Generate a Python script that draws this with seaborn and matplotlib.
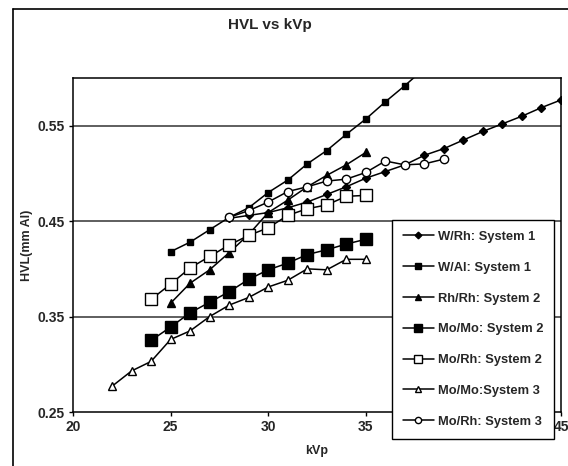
import matplotlib
matplotlib.use("Agg")
import matplotlib.pyplot as plt
import seaborn as sns
import pandas as pd
from matplotlib.lines import Line2D

sns.set_theme(style="white")
plt.rcParams['font.family'] = ['Liberation Sans', 'DejaVu Sans']

# ---- data ----
wrh_s1_kvp = list(range(28, 46))
wrh_s1_hvl = [0.453, 0.456, 0.459, 0.464, 0.470, 0.478, 0.486, 0.495, 0.502, 0.509,
              0.519, 0.526, 0.535, 0.544, 0.552, 0.560, 0.569, 0.577]

wal_s1_kvp = list(range(25, 39))
wal_s1_hvl = [0.418, 0.428, 0.441, 0.454, 0.464, 0.480, 0.493, 0.510, 0.524, 0.541,
              0.557, 0.575, 0.592, 0.610]

rhrh_s2_kvp = list(range(25, 36))
rhrh_s2_hvl = [0.364, 0.385, 0.399, 0.417, 0.436, 0.459, 0.472, 0.486, 0.498, 0.509, 0.522]

momo_s2_kvp = list(range(24, 36))
momo_s2_hvl = [0.325, 0.339, 0.354, 0.365, 0.376, 0.389, 0.399, 0.406, 0.415, 0.420,
               0.426, 0.431]

morh_s2_kvp = list(range(24, 36))
morh_s2_hvl = [0.368, 0.384, 0.401, 0.413, 0.425, 0.435, 0.443, 0.456, 0.463, 0.467,
               0.476, 0.477]

momo_s3_kvp = list(range(22, 36))
momo_s3_hvl = [0.277, 0.293, 0.303, 0.326, 0.335, 0.350, 0.362, 0.370, 0.381, 0.388,
               0.400, 0.399, 0.410, 0.410]

morh_s3_kvp = list(range(28, 40))
morh_s3_hvl = [0.454, 0.461, 0.470, 0.481, 0.486, 0.492, 0.494, 0.501, 0.513, 0.509,
               0.510, 0.515]

labels = ["W/Rh: System 1", "W/Al: System 1", "Rh/Rh: System 2", "Mo/Mo: System 2",
          "Mo/Rh: System 2", "Mo/Mo:System 3", "Mo/Rh: System 3"]

x_ticks = [20, 25, 30, 35, 40, 45]
x_tick_labels = ["20", "25", "30", "35", "", "45"]   # "40" is hidden behind the legend
y_ticks = [0.25, 0.35, 0.45, 0.55]
y_tick_labels = ["0.25", "0.35", "0.45", "0.55"]

series = [
    (wrh_s1_kvp, wrh_s1_hvl, dict(marker="D", markersize=4.5, markerfacecolor="black")),
    (wal_s1_kvp, wal_s1_hvl, dict(marker="s", markersize=5, markerfacecolor="black")),
    (rhrh_s2_kvp, rhrh_s2_hvl, dict(marker="^", markersize=5.5, markerfacecolor="black")),
    (momo_s2_kvp, momo_s2_hvl, dict(marker="s", markersize=8.5, markerfacecolor="black")),
    (morh_s2_kvp, morh_s2_hvl, dict(marker="s", markersize=8, markerfacecolor="white")),
    (momo_s3_kvp, momo_s3_hvl, dict(marker="^", markersize=5.5, markerfacecolor="white")),
    (morh_s3_kvp, morh_s3_hvl, dict(marker="o", markersize=6, markerfacecolor="white")),
]

fig = plt.figure(figsize=(5.68, 4.66), dpi=100)
fig.patch.set_facecolor("white")
ax = fig.add_axes([73/568, 1-412/466, (561-73)/568, (412-78)/466])

# horizontal gridlines
for yv in [0.35, 0.45, 0.55]:
    ax.axhline(yv, color="#333333", lw=1.1, zorder=1)

handles = []
for (xs, ys, st), lab in zip(series, labels):
    df = pd.DataFrame({"kVp": xs, "HVL": ys})
    sns.lineplot(data=df, x="kVp", y="HVL", ax=ax, color="black", lw=1.1,
                 markeredgecolor="black", markeredgewidth=1.0, label=None,
                 legend=False, zorder=3, **st)
    handles.append(Line2D([0], [0], color="black", lw=1.1, markeredgecolor="black",
                          markeredgewidth=1.0, label=lab,
                          **{k: (v*0.75 if k == "markersize" else v) for k, v in st.items()}))

ax.set_xlim(20, 45)
ax.set_ylim(0.25, 0.60)
ax.set_xticks(x_ticks)
ax.set_xticklabels(x_tick_labels)
ax.set_yticks(y_ticks)
ax.set_yticklabels(y_tick_labels)
ax.tick_params(axis="both", labelsize=10, length=3, width=1, color="black",
               direction="out", bottom=True, left=True, pad=3)
for lbl in ax.get_xticklabels() + ax.get_yticklabels():
    lbl.set_fontweight("bold")
for sp in ax.spines.values():
    sp.set_visible(True)
    sp.set_color("black")
    sp.set_linewidth(1.1)

ax.set_xlabel("kVp", fontsize=9, fontweight="bold", labelpad=8)
ax.set_ylabel("HVL(mm Al)", fontsize=9, fontweight="bold", labelpad=3)
fig.text(270/568, 1-25/466, "HVL vs kVp", ha="center", va="center",
         fontsize=11, fontweight="bold")

leg = ax.legend(handles=handles, loc="upper left",
                bbox_to_anchor=(392/568, 1-220/466), bbox_transform=fig.transFigure,
                frameon=True, fancybox=False, edgecolor="black", framealpha=1,
                fontsize=9.3, handlelength=2.4, handletextpad=0.3,
                labelspacing=1.45, borderpad=0.85, borderaxespad=0)
leg.get_frame().set_linewidth(1.0)
leg.set_zorder(10)
for t in leg.get_texts():
    t.set_fontweight("bold")

# outer chart border (left and top visible in the reference)
fig.add_artist(Line2D([13/568, 13/568], [0, 1-9/466], transform=fig.transFigure,
                      color="black", lw=1.2))
fig.add_artist(Line2D([13/568, 1], [1-9/466, 1-9/466], transform=fig.transFigure,
                      color="black", lw=1.2))

fig.savefig("out.png", dpi=100, facecolor="white")
